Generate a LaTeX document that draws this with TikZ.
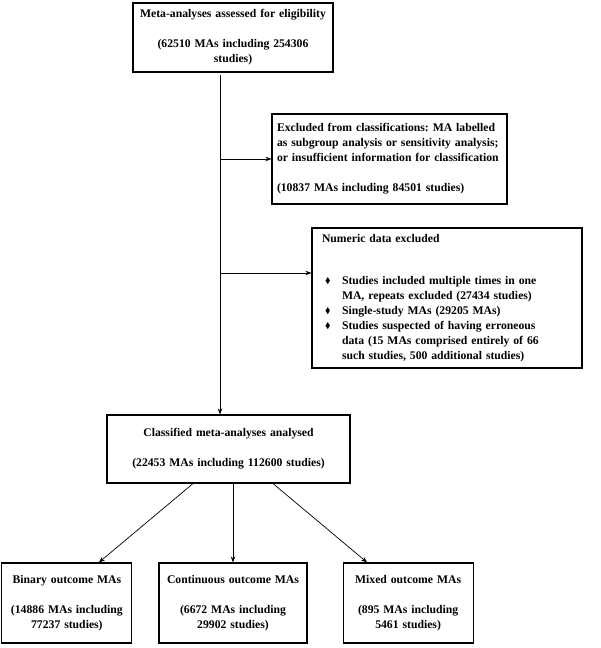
\documentclass[tikz,border=0pt]{standalone}
\usepackage{fontspec}
\setmainfont{Liberation Serif}
\usepackage{amssymb}
\usetikzlibrary{arrows.meta,positioning}
\frenchspacing

\newcommand{\bul}{\makebox[20pt][l]{\hspace{3pt}\raisebox{0.5pt}{\scalebox{0.7}{$\blacklozenge$}}}}

\tikzset{
    box/.style={draw, line width=1.1pt, font=\fontsize{11.7}{15}\selectfont\bfseries,
        inner sep=5pt, align=center},
    leftbox/.style={box, align=left},
    arr/.style={-{Stealth[length=6pt,width=4.5pt]}, line width=0.7pt},
}

\begin{document}
\begin{tikzpicture}[x=1pt, y=-1pt]
    \useasboundingbox (0,0) rectangle (600,648);

    \node[box, text width=190pt, minimum height=69pt] (elig) at (233,37.5) {%
        Meta-analyses assessed for eligibility\\[15pt]
        (62510 MAs including 254306\\
        studies)};

    \node[leftbox, text width=225pt, inner xsep=5pt, minimum height=90pt] (excl) at (389.5,159) {%
        Excluded from classifications: MA labelled\\
        as subgroup analysis or sensitivity analysis;\\
        or insufficient information for classification\\[15pt]
        (10837 MAs including 84501 studies)};

    \node[leftbox, text width=250pt, inner xsep=10pt, minimum height=140pt] (numeric) at (447,298) {%
        Numeric data excluded\\[27pt]
        \bul Studies included multiple times in one\\
        \hspace*{20pt}MA, repeats excluded (27434 studies)\\
        \bul Single-study MAs (29205 MAs)\\
        \bul Studies suspected of having erroneous\\
        \hspace*{20pt}data (15 MAs comprised entirely of 66\\
        \hspace*{20pt}such studies, 500 additional studies)};

    \node[box, text width=233pt, minimum height=68pt] (classified) at (228.5,449) {%
        Classified meta-analyses analysed\\[15pt]
        (22453 MAs including 112600 studies)};

    \node[box, text width=138pt, minimum height=80pt] (continuous) at (233,603) {%
        Continuous outcome MAs\\[15pt]
        (6672 MAs including\\
        29902 studies)};
    \node[box, text width=120pt, minimum height=80pt] (binary) [left=26pt of continuous] {%
        Binary outcome MAs\\[15pt]
        (14886 MAs including\\
        77237 studies)};
    \node[box, text width=120pt, minimum height=80pt] (mixed) [right=35pt of continuous] {%
        Mixed outcome MAs\\[15pt]
        (895 MAs including\\
        5461 studies)};

    % main flow down the left
    \coordinate (trunk) at (220,0);
    \draw[arr] ([yshift=-2pt]elig.south -| trunk) -- (classified.north -| trunk);
    \draw[arr] (excl.west -| trunk) -- (excl.west);
    \draw[arr] ([yshift=25pt]numeric.west -| trunk) -- ([yshift=25pt]numeric.west);

    \draw[arr] ([xshift=-35.5pt]classified.south) -- ([xshift=32pt]binary.north);
    \draw[arr] (classified.south -| continuous.north) -- (continuous.north);
    \draw[arr] ([xshift=44.5pt]classified.south) -- ([xshift=-41pt]mixed.north);
\end{tikzpicture}
\end{document}
